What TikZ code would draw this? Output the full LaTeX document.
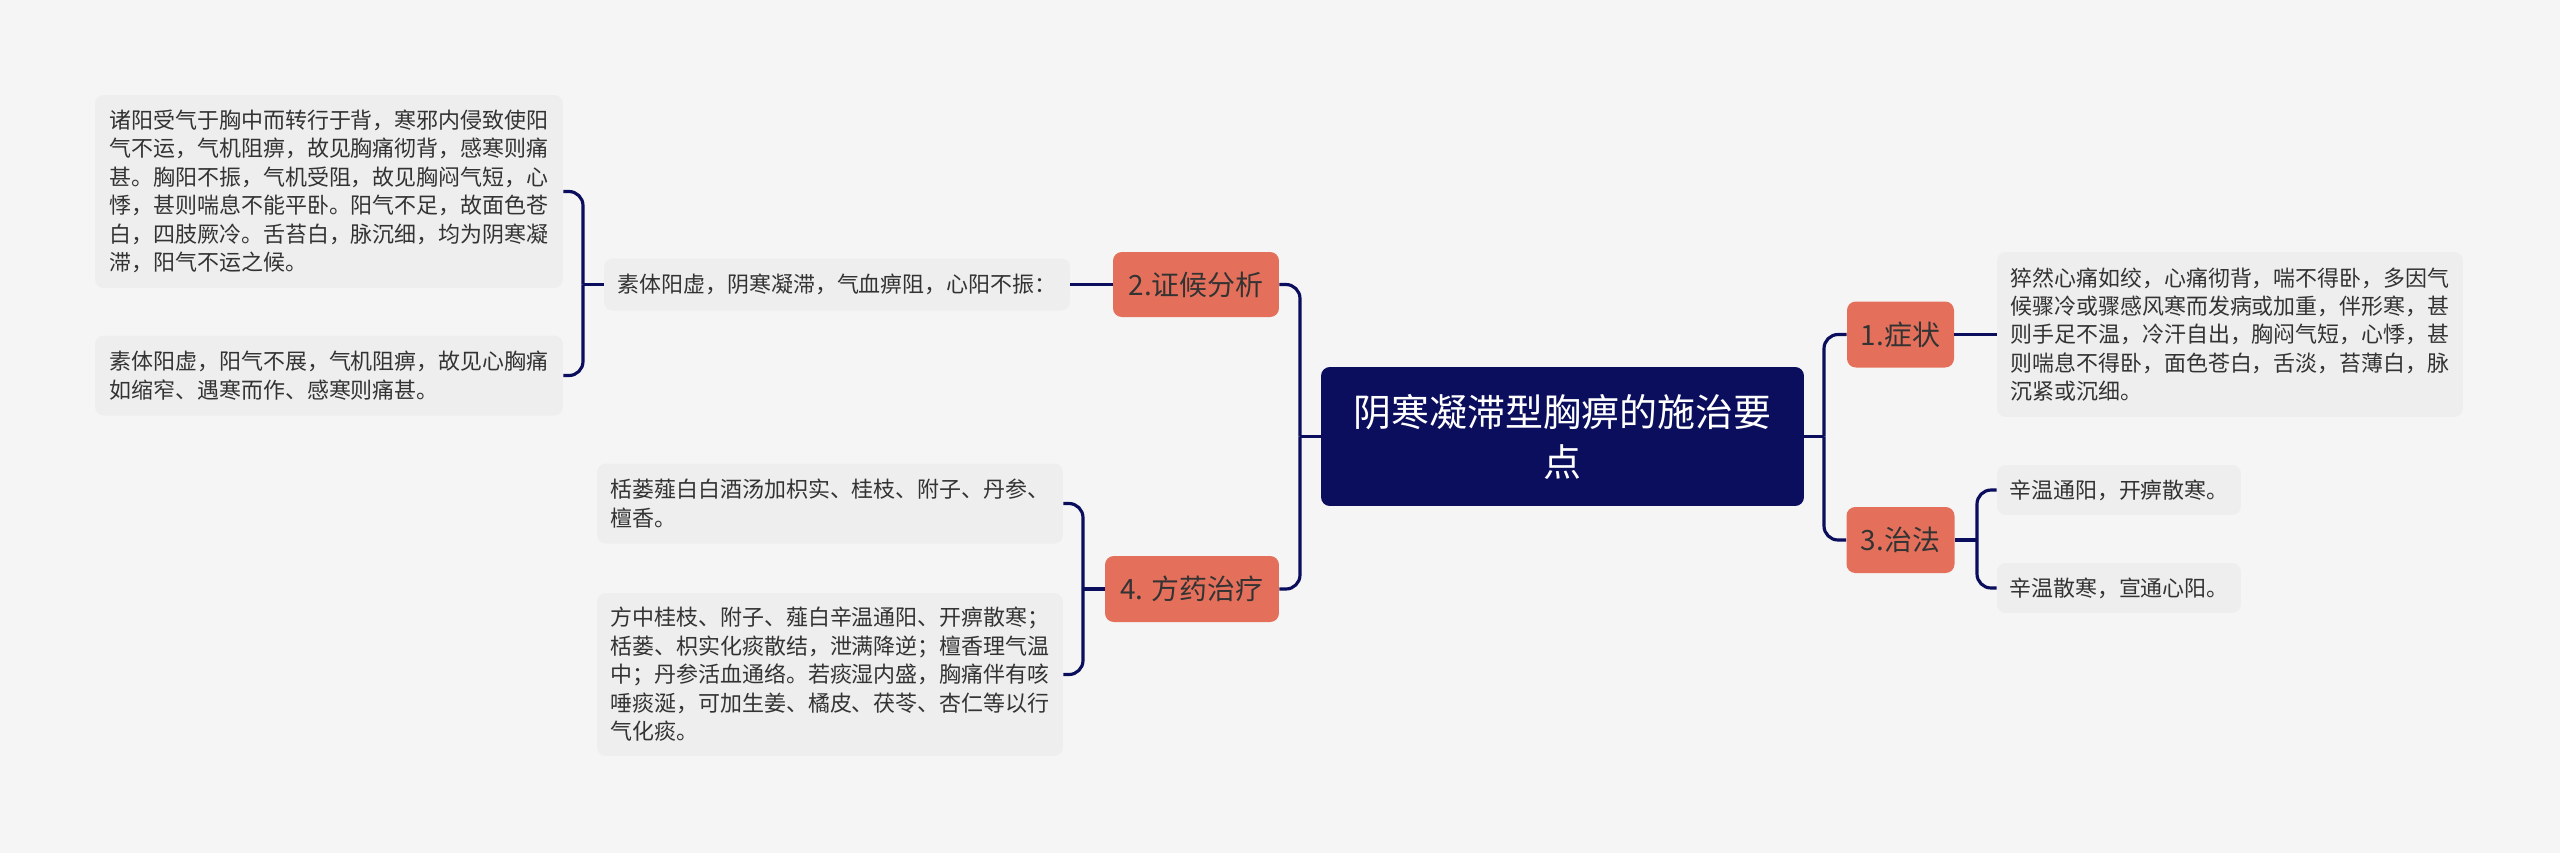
\documentclass[tikz,border=0pt]{standalone}
\usepackage{fontspec}
\setmainfont{Noto Sans CJK SC}
\usepackage{xcolor}
\usepackage{tikz}
\definecolor{bgcol}{HTML}{F5F5F5}
\definecolor{navy}{HTML}{0B0E5C}
\definecolor{coral}{HTML}{E4705B}
\definecolor{leafbg}{HTML}{EEEEEE}
\definecolor{inkcol}{HTML}{333333}

\begin{document}
\begin{tikzpicture}[x=0.02cm,y=-0.02cm,
topic/.style={fill=navy,text=white,rounded corners=5pt,inner sep=0pt,align=center,font=\fontsize{21.6}{28.5}\selectfont},
branch/.style={fill=coral,text=inkcol,rounded corners=5pt,inner sep=0pt,font=\fontsize{15.9}{20}\selectfont},
leaf/.style={fill=leafbg,text=inkcol,rounded corners=5pt,inner sep=0pt,align=left,font=\fontsize{12.5}{16.2}\selectfont},
link/.style={draw=navy,line width=1.8pt,rounded corners=8pt}]
\fill[bgcol](0,0)rectangle(2560,853);
\node[topic,minimum width=9.66cm,minimum height=2.78cm](root)at(1562.5,436.5){阴寒凝滞型胸痹的施治要\\点};
\node[branch,minimum width=3.32cm,minimum height=1.30cm](zhenghou)at(1196,284.5){2.证候分析};
\node[branch,minimum width=3.48cm,minimum height=1.32cm](fangyao)at(1192,589){4. 方药治疗};
\node[branch,minimum width=2.14cm,minimum height=1.32cm](zhengzhuang)at(1900.5,334.5){1.症状};
\node[branch,minimum width=2.16cm,minimum height=1.32cm](zhifa)at(1900.5,540){3.治法};
\node[leaf,minimum width=9.32cm,minimum height=1.04cm](zhenghouText)at(837,284.5){素体阳虚，阴寒凝滞，气血痹阻，心阳不振：};
\node[leaf,minimum width=9.36cm,minimum height=3.86cm](bingjiA)at(329,191.5){诸阳受气于胸中而转行于背，寒邪内侵致使阳\\气不运，气机阻痹，故见胸痛彻背，感寒则痛\\甚。胸阳不振，气机受阻，故见胸闷气短，心\\悸，甚则喘息不能平卧。阳气不足，故面色苍\\白，四肢厥冷。舌苔白，脉沉细，均为阴寒凝\\滞，阳气不运之候。};
\node[leaf,minimum width=9.36cm,minimum height=1.60cm](bingjiB)at(329,375.5){素体阳虚，阳气不展，气机阻痹，故见心胸痛\\如缩窄、遇寒而作、感寒则痛甚。};
\node[leaf,minimum width=9.32cm,minimum height=1.60cm](fangA)at(830,503.5){栝蒌薤白白酒汤加枳实、桂枝、附子、丹参、\\檀香。};
\node[leaf,minimum width=9.32cm,minimum height=3.26cm](fangB)at(830,674.5){方中桂枝、附子、薤白辛温通阳、开痹散寒；\\栝蒌、枳实化痰散结，泄满降逆；檀香理气温\\中；丹参活血通络。若痰湿内盛，胸痛伴有咳\\唾痰涎，可加生姜、橘皮、茯苓、杏仁等以行\\气化痰。};
\node[leaf,minimum width=9.32cm,minimum height=3.30cm](zhengzhuangText)at(2230,334.5){猝然心痛如绞，心痛彻背，喘不得卧，多因气\\候骤冷或骤感风寒而发病或加重，伴形寒，甚\\则手足不温，冷汗自出，胸闷气短，心悸，甚\\则喘息不得卧，面色苍白，舌淡，苔薄白，脉\\沉紧或沉细。};
\node[leaf,minimum width=4.88cm,minimum height=1.0cm](zhifaA)at(2119,490){辛温通阳，开痹散寒。};
\node[leaf,minimum width=4.88cm,minimum height=1.0cm](zhifaB)at(2119,588){辛温散寒，宣通心阳。};
\coordinate(lj)at(1300,436.5);
\coordinate(rj)at(1824,436.5);
\coordinate(lk)at(583,284.5);
\coordinate(lf)at(1083,589);
\coordinate(rz)at(1977,540);
\draw[link](root.west)--(lj);
\draw[link](zhenghou.east)-|(lj);
\draw[link](fangyao.east)-|(lj);
\draw[link](root.east)--(rj);
\draw[link](zhengzhuang.west)-|(rj);
\draw[link](zhifa.west)-|(rj);
\draw[link](zhenghou.west)--(zhenghouText.east);
\draw[link](zhenghouText.west)--(lk);
\draw[link](bingjiA.east)-|(lk);
\draw[link](bingjiB.east)-|(lk);
\draw[link](fangyao.west)--(lf);
\draw[link](fangA.east)-|(lf);
\draw[link](fangB.east)-|(lf);
\draw[link](zhengzhuang.east)--(zhengzhuangText.west);
\draw[link](zhifa.east)--(rz);
\draw[link](zhifaA.west)-|(rz);
\draw[link](zhifaB.west)-|(rz);
\end{tikzpicture}
\end{document}
